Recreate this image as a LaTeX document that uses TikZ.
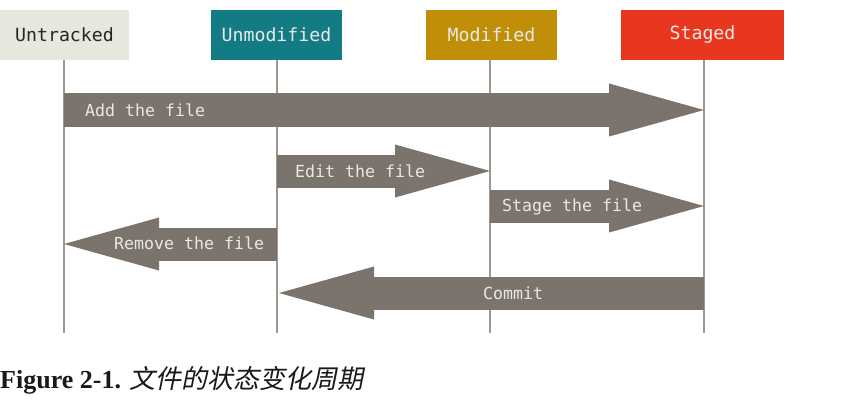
\documentclass[tikz,border=0pt]{standalone}
\usepackage{fontspec}
\setmainfont{Liberation Serif}
\newfontfamily\monofont{DejaVu Sans Mono}
\newfontfamily\cjkit[FakeSlant=0.2]{Noto Sans CJK SC}
\usetikzlibrary{arrows.meta}
\definecolor{bgU}{HTML}{E8E7DD}
\definecolor{bgUm}{HTML}{127B83}
\definecolor{bgM}{HTML}{C18E08}
\definecolor{bgS}{HTML}{E9361F}
\definecolor{arr}{HTML}{7B746C}
\definecolor{lifec}{HTML}{9E9890}
\definecolor{lighttxt}{HTML}{E8E8E8}
\tikzset{
  state/.style={minimum height=50pt, inner sep=0pt, font=\monofont\fontsize{18.2}{20}\selectfont, text=lighttxt},
  life/.style={draw=lifec, line width=1.5pt},
  blockarrow/.style={draw=arr, line width=33pt, -{Triangle[width=53pt,length=95pt,line width=0pt]}},
  lbl/.style={font=\monofont\fontsize{16.6}{19}\selectfont, text=lighttxt, inner sep=0pt},
}
\begin{document}
\begin{tikzpicture}[x=1pt,y=-1pt]
\useasboundingbox[fill=white] (0,0) rectangle (868,404);
% states
\node[state, fill=bgU, text=black!85, minimum width=129pt] (U) at (64.5,35) {Untracked};
\node[state, fill=bgUm, minimum width=131pt] (Um) at (276.5,35) {Unmodified};
\node[state, fill=bgM, minimum width=131pt] (M) at (491.5,35) {Modified};
\node[state, fill=bgS, minimum width=163pt] (S) at (702.5,35) {Staged};
% lifelines
\coordinate (Ub) at (64,333);
\coordinate (Umb) at (277,333);
\coordinate (Mb) at (490,333);
\coordinate (Sb) at (704,333);
\draw[life] (U.south -| Ub) -- (Ub);
\draw[life] (Um.south -| Umb) -- (Umb);
\draw[life] (M.south -| Mb) -- (Mb);
\draw[life] (S.south -| Sb) -- (Sb);
% arrows
\coordinate (a1s) at (64,110);  \coordinate (a1e) at (704,110);
\coordinate (a2s) at (277,171); \coordinate (a2e) at (490,171);
\coordinate (a3s) at (490,206); \coordinate (a3e) at (704,206);
\coordinate (a4s) at (277,244); \coordinate (a4e) at (64,244);
\coordinate (a5s) at (704,293); \coordinate (a5e) at (279,293);
\draw[blockarrow] (a1s) -- (a1e);
\draw[blockarrow] (a2s) -- (a2e);
\draw[blockarrow] (a3s) -- (a3e);
\draw[blockarrow] (a4s) -- (a4e);
\draw[blockarrow] (a5s) -- (a5e);
% labels
\node[lbl, anchor=west] (l1) at (85,110) {Add the file};
\node[lbl, anchor=west] (l2) at (295,171) {Edit the file};
\node[lbl, anchor=west] (l3) at (502,207) {Stage the file};
\node[lbl, anchor=west] (l4) at (114,243) {Remove the file};
\node[lbl, anchor=west] (l5) at (483,293) {Commit};
% caption
\node[anchor=base west, inner sep=0pt, font=\fontsize{26}{29}\selectfont, text=black!90] (cap) at (0,388)
  {\textbf{Figure 2-1.} {\cjkit 文件的状态变化周期}};
\end{tikzpicture}
\end{document}
